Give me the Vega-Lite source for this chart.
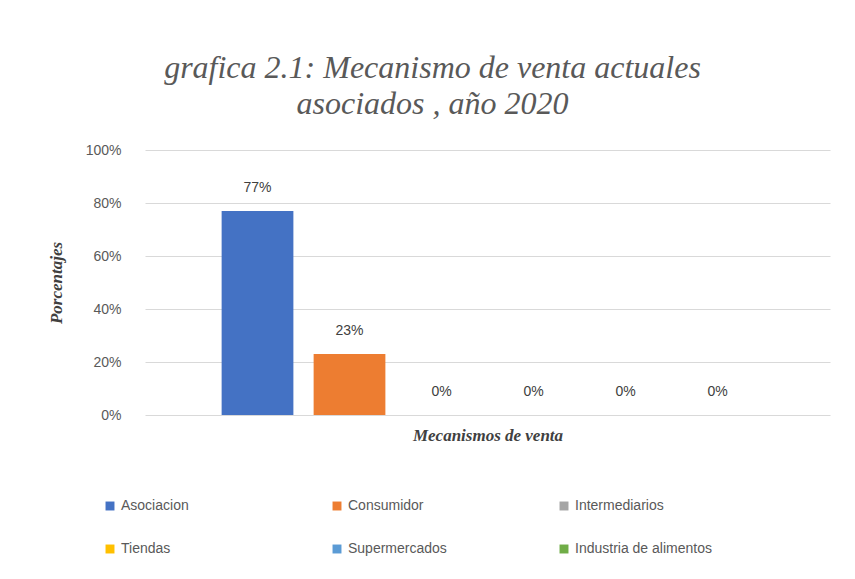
{
  "$schema": "https://vega.github.io/schema/vega-lite/v6.json",
  "autosize": {"type": "none"},
  "width": 685,
  "height": 265,
  "padding": {"left": 145, "top": 150, "right": 25, "bottom": 164},
  "background": "white",
  "title": {
    "text": ["grafica 2.1: Mecanismo de venta actuales", "asociados , año 2020"],
    "font": "Liberation Serif",
    "fontStyle": "italic",
    "fontWeight": "normal",
    "fontSize": 32,
    "color": "#595959",
    "lineHeight": 36,
    "anchor": "middle",
    "frame": "group",
    "dx": -55,
    "offset": 22
  },
  "data": {
    "values": [
      {"mecanismo": "Asociacion", "valor": 0.77},
      {"mecanismo": "Consumidor", "valor": 0.23},
      {"mecanismo": "Intermediarios", "valor": 0},
      {"mecanismo": "Tiendas", "valor": 0},
      {"mecanismo": "Supermercados", "valor": 0},
      {"mecanismo": "Industria de alimentos", "valor": 0}
    ]
  },
  "encoding": {
    "x": {
      "field": "mecanismo",
      "type": "nominal",
      "sort": null,
      "scale": {"paddingInner": 0.22, "paddingOuter": 0.833},
      "axis": {
        "title": "Mecanismos  de venta",
        "titleFont": "Liberation Serif",
        "titleFontStyle": "italic",
        "titleFontWeight": "bold",
        "titleFontSize": 17,
        "titleColor": "#404040",
        "titlePadding": 12,
        "labels": false,
        "ticks": false,
        "domain": false
      }
    },
    "y": {
      "field": "valor",
      "type": "quantitative",
      "scale": {"domain": [0, 1]},
      "axis": {
        "title": "Porcentajes",
        "titleFont": "Liberation Serif",
        "titleFontStyle": "italic",
        "titleFontWeight": "bold",
        "titleFontSize": 17,
        "titleColor": "#404040",
        "titlePadding": 20,
        "format": ".0%",
        "values": [0, 0.2, 0.4, 0.6, 0.8, 1],
        "labelFont": "Liberation Sans",
        "labelFontSize": 14,
        "labelColor": "#595959",
        "labelPadding": 24,
        "ticks": false,
        "domain": false,
        "grid": true,
        "gridColor": "#D9D9D9",
        "gridWidth": 1
      }
    }
  },
  "layer": [
    {
      "mark": {"type": "bar"},
      "encoding": {
        "color": {
          "field": "mecanismo",
          "type": "nominal",
          "sort": null,
          "scale": {
            "domain": ["Asociacion", "Consumidor", "Intermediarios", "Tiendas", "Supermercados", "Industria de alimentos"],
            "range": ["#4472C4", "#ED7D31", "#A5A5A5", "#FFC000", "#5B9BD5", "#70AD47"]
          },
          "legend": {
            "title": null,
            "orient": "none",
            "legendX": -42,
            "legendY": 349,
            "direction": "horizontal",
            "columns": 3,
            "gridAlign": "all",
            "columnPadding": 72,
            "rowPadding": 29,
            "symbolType": "square",
            "symbolSize": 80,
            "symbolStrokeWidth": 0,
            "labelFont": "Liberation Sans",
            "labelFontSize": 14,
            "labelColor": "#595959",
            "labelOffset": 4
          }
        }
      }
    },
    {
      "mark": {
        "type": "text",
        "baseline": "middle",
        "dy": -23,
        "font": "Liberation Sans",
        "fontSize": 14,
        "color": "#404040"
      },
      "encoding": {
        "text": {"field": "valor", "type": "quantitative", "format": ".0%"}
      }
    }
  ],
  "config": {"view": {"stroke": null}}
}
